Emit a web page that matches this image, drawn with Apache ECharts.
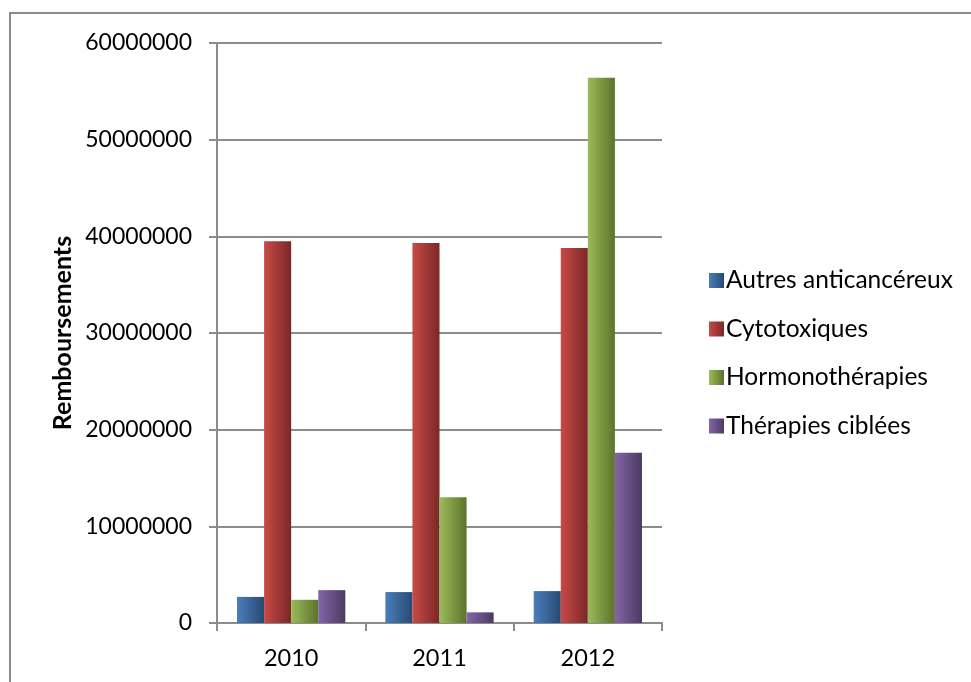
<!DOCTYPE html>
<html>
<head>
<meta charset="utf-8">
<script src="https://cdn.jsdelivr.net/npm/echarts@6/dist/echarts.min.js"></script>
<style>
  html, body { margin: 0; padding: 0; background: #fff; }
  #chart { width: 971px; height: 682px; }
</style>
</head>
<body>
<div id="chart"></div>
<script>
// years on the x axis
const years = ["2010", "2011", "2012"];
// series values (remboursements)
const autres = [2700000, 3200000, 3300000];
const cytotoxiques = [39500000, 39300000, 38800000];
const hormono = [2400000, 13000000, 56400000];
const ciblees = [3400000, 1100000, 17600000];

const font = "Lato";

// light -> dark horizontal gradient like the office bars
function grad(light, dark) {
  return new echarts.graphic.LinearGradient(0, 0, 1, 0, [
    { offset: 0, color: light },
    { offset: 1, color: dark },
  ]);
}

let chart = echarts.init(document.getElementById("chart"));

function bar(name, data, light, dark) {
  return {
    name: name,
    type: "bar",
    data: data,
    barGap: "0%",
    barCategoryGap: "27%",
    itemStyle: { color: grad(light, dark) },
  };
}

let option = {
  animation: false,
  backgroundColor: "#fff",
  textStyle: { fontFamily: font },
  graphic: [
    {
      type: "rect",
      shape: { x: 10, y: 13, width: 1000, height: 700 },
      style: { fill: "none", stroke: "#8a8a8a", lineWidth: 2 },
      z: -1,
    },
  ],
  grid: { left: 217, right: 309, top: 43, bottom: 59 },
  legend: {
    orient: "vertical",
    left: 704,
    top: 263,
    itemWidth: 15,
    itemHeight: 15,
    itemGap: 23.5,
    icon: "rect",
    textStyle: { fontFamily: font, fontSize: 24.5, lineHeight: 24, color: "#000", padding: [0, 0, 0, -3] },
    data: ["Autres anticancéreux", "Cytotoxiques", "Hormonothérapies", "Thérapies ciblées"],
  },
  xAxis: {
    type: "category",
    data: years,
    axisLine: { lineStyle: { color: "#8c8c8c", width: 2 } },
    axisTick: { show: true, length: 8, alignWithLabel: false, lineStyle: { color: "#8c8c8c", width: 2 } },
    axisLabel: { fontFamily: font, fontSize: 23.5, color: "#000", margin: 23 },
  },
  yAxis: {
    type: "value",
    min: 0,
    max: 60000000,
    interval: 10000000,
    name: "Remboursements",
    nameLocation: "middle",
    nameGap: 142,
    nameTextStyle: { fontFamily: font, fontSize: 25, fontWeight: "bold", color: "#000" },
    axisLine: { show: true, lineStyle: { color: "#8c8c8c", width: 2 } },
    axisTick: { show: true, length: 8, lineStyle: { color: "#8c8c8c", width: 2 } },
    axisLabel: {
      fontFamily: font,
      fontSize: 23,
      color: "#000",
      margin: 25,
      formatter: (v) => String(v),
    },
    splitLine: { lineStyle: { color: "#8c8c8c", width: 2 } },
  },
  series: [
    bar("Autres anticancéreux", autres, "#4a7ebb", "#284a73"),
    bar("Cytotoxiques", cytotoxiques, "#c84a47", "#7b2826"),
    bar("Hormonothérapies", hormono, "#9bbb59", "#5c732c"),
    bar("Thérapies ciblées", ciblees, "#8466a8", "#4c3a62"),
  ],
};
chart.setOption(option);
</script>
</body>
</html>
